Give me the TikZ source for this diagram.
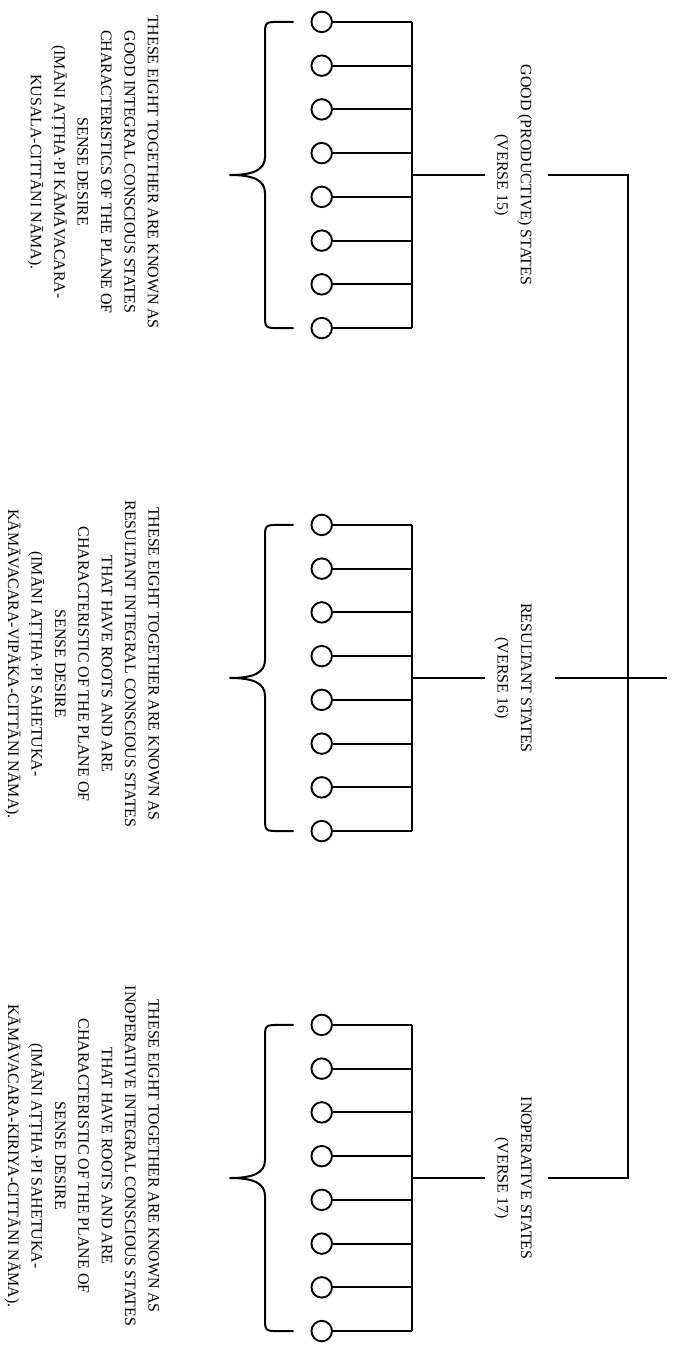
\documentclass[tikz,border=0pt]{standalone}
\usepackage{fontspec}
\setmainfont{Liberation Serif}
\begin{document}
\begin{tikzpicture}[x=1pt,y=-1pt,
  dot/.style={circle,draw,line width=1.9pt,minimum size=20.5pt,inner sep=0pt},
  wire/.style={line width=2pt},
  bracepath/.style={line width=2pt,line join=round,line cap=round},
  note/.style={rotate=-90,align=center,inner sep=0pt,font=\fontsize{15.9}{23.4}\selectfont}]
\useasboundingbox (0,0) rectangle (673,1359);

\foreach \g/\yc in {1/175,2/678,3/1178} {
  \coordinate (bt\g) at (411.7,\yc-153.1);
  \coordinate (bb\g) at (411.7,\yc+153.1);
  \coordinate (h\g) at (411.7,\yc);
  \coordinate (s\g) at (485,\yc);
  \foreach \i in {0,...,7} {
    \node[dot] (c\g-\i) at (321.7,{\yc-153.1+43.74*\i}) {};
    \draw[wire] (c\g-\i.east) -- (c\g-\i.east -| bt\g);
  }
  \draw[wire] (bt\g) -- (bb\g);
  \draw[wire] (h\g) -- (s\g);
  \draw[bracepath] (293,\yc-153.1) -- (280,\yc-153.1)
     .. controls (265,\yc-153.1) .. (265,\yc-139)
     -- (265,\yc-18)
     .. controls (265,\yc-5) and (253,\yc) .. (230,\yc)
     .. controls (253,\yc) and (265,\yc+5) .. (265,\yc+18)
     -- (265,\yc+139)
     .. controls (265,\yc+153.1) .. (280,\yc+153.1) -- (293,\yc+153.1);
}

\node[note] (L1) at (513,175) {GOOD (PRODUCTIVE) STATES\\(VERSE 15)};
\node[note] (L2) at (513,678) {RESULTANT STATES\\(VERSE 16)};
\node[note] (L3) at (513,1178) {INOPERATIVE STATES\\(VERSE 17)};

\coordinate (k1) at (548,175);
\coordinate (j1) at (628,175);
\coordinate (k2) at (555,678);
\coordinate (j2) at (628,678);
\coordinate (e2) at (667,678);
\coordinate (k3) at (548,1178);
\coordinate (j3) at (628,1178);
\draw[wire] (k1) -- (j1) -- (j3) -- (k3);
\draw[wire] (k2) -- (e2);

\node[note] (T1) at (93,172) {THESE EIGHT TOGETHER ARE KNOWN AS\\
GOOD INTEGRAL CONSCIOUS STATES\\
CHARACTERISTICS OF THE PLANE OF\\
SENSE DESIRE\\
(IMĀNI AṬṬHA·PI KĀMĀVACARA-\\
KUSALA-CITTĀNI NĀMA).};

\node[note] (T2) at (82,664) {THESE EIGHT TOGETHER ARE KNOWN AS\\
RESULTANT INTEGRAL CONSCIOUS STATES\\
THAT HAVE ROOTS AND ARE\\
CHARACTERISTIC OF THE PLANE OF\\
SENSE DESIRE\\
(IMĀNI AṬṬHA·PI SAHETUKA-\\
KĀMĀVACARA-VIPĀKA-CITTĀNI NĀMA).};

\node[note] (T3) at (82,1156) {THESE EIGHT TOGETHER ARE KNOWN AS\\
INOPERATIVE INTEGRAL CONSCIOUS STATES\\
THAT HAVE ROOTS AND ARE\\
CHARACTERISTIC OF THE PLANE OF\\
SENSE DESIRE\\
(IMĀNI AṬṬHA·PI SAHETUKA-\\
KĀMĀVACARA-KIRIYA-CITTĀNI NĀMA).};
\end{tikzpicture}
\end{document}
